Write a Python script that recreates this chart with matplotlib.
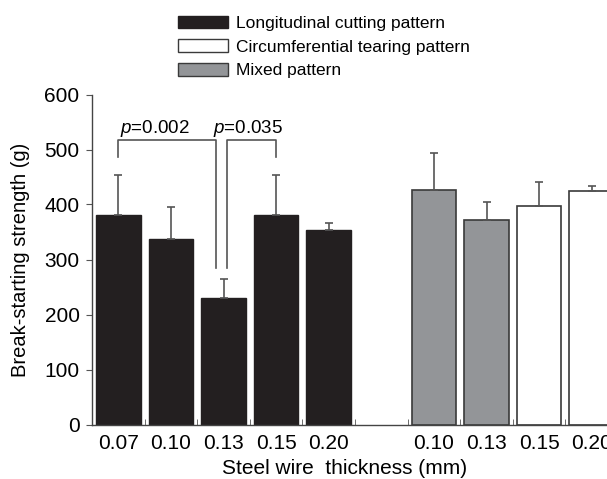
import numpy as np
import matplotlib
matplotlib.use("Agg")
import matplotlib.pyplot as plt
from matplotlib.patches import Patch

plt.rcParams['font.family'] = ['Liberation Sans', 'DejaVu Sans']
plt.rcParams['mathtext.fontset'] = 'custom'
plt.rcParams['mathtext.it'] = 'Liberation Sans:italic'
plt.rcParams['mathtext.rm'] = 'Liberation Sans'

# data
long_labels = ['0.07', '0.10', '0.13', '0.15', '0.20']
long_mean = [380, 338, 230, 380, 354]
long_err = [73, 57, 34, 73, 13]

mixed_labels = ['0.10', '0.13']
mixed_mean = [427, 372]
mixed_err = [66, 32]

circ_labels = ['0.15', '0.20']
circ_mean = [398, 425]
circ_err = [43, 8]

p_labels = ['$p$=0.002', '$p$=0.035']

BLACK = '#231f20'
GRAY = '#939598'
EDGE = '#3a3a3a'
LINE = '#555555'

fig = plt.figure(figsize=(6.07, 4.79), dpi=100)
ax = fig.add_axes([92 / 607, 1 - 424.5 / 479, 526 / 607, 330 / 479])

x_long = np.arange(len(long_labels))
x_mixed = np.arange(len(mixed_labels)) + len(long_labels) + 1
x_circ = np.arange(len(circ_labels)) + x_mixed[-1] + 1

err_kw = dict(ecolor=LINE, elinewidth=1.2, capsize=3, capthick=1.2)
w = 0.85

ax.bar(x_long, long_mean, w, color=BLACK, edgecolor=BLACK,
       yerr=[np.zeros(len(long_err)), long_err], error_kw=err_kw, zorder=2)
ax.bar(x_mixed, mixed_mean, w, color=GRAY, edgecolor=EDGE, linewidth=1.2,
       yerr=[np.zeros(len(mixed_err)), mixed_err], error_kw=err_kw, zorder=2)
ax.bar(x_circ, circ_mean, w, color='white', edgecolor=EDGE, linewidth=1.2,
       yerr=[np.zeros(len(circ_err)), circ_err], error_kw=err_kw, zorder=2)

# significance brackets
ax.plot([0, 0, 1.85, 1.85], [486, 518, 518, 284], color=LINE, lw=1.2)
ax.plot([2.07, 2.07, 3, 3], [284, 518, 518, 486], color=LINE, lw=1.2)
ax.text(0.7, 539, p_labels[0], ha='center', va='center', fontsize=13.5)
ax.text(2.47, 539, p_labels[1], ha='center', va='center', fontsize=13.5)

ax.set_xlim(-0.5, 9.5)
ax.set_ylim(0, 600)
ax.set_yticks(range(0, 601, 100))
xt = list(x_long) + list(x_mixed) + list(x_circ)
ax.set_xticks(xt)
ax.set_xticklabels(long_labels + mixed_labels + circ_labels)
ax.set_xticks(np.arange(0.5, 9, 1), minor=True)
ax.tick_params(axis='x', which='major', length=0, pad=7, labelsize=15)
ax.tick_params(axis='x', which='minor', direction='in', length=4, color=LINE)
ax.tick_params(axis='y', direction='out', length=4, pad=5, labelsize=15, color=LINE)

for s in ['top', 'right']:
    ax.spines[s].set_visible(False)
for s in ['left', 'bottom']:
    ax.spines[s].set_color('#444444')
    ax.spines[s].set_linewidth(1.0)

ax.set_ylabel('Break-starting strength (g)', fontsize=14.5)
ax.yaxis.set_label_coords(-0.118, 0.5)
ax.set_xlabel('Steel wire  thickness (mm)', fontsize=15)
ax.xaxis.set_label_coords(0.481, -0.105)

handles = [Patch(facecolor=BLACK, edgecolor=BLACK),
           Patch(facecolor='white', edgecolor=EDGE),
           Patch(facecolor=GRAY, edgecolor=EDGE)]
names = ['Longitudinal cutting pattern', 'Circumferential tearing pattern', 'Mixed pattern']
fig.legend(handles, names, loc='upper left', bbox_to_anchor=(178 / 607, 1 - 15.5 / 479),
           frameon=False, fontsize=12.5, handlelength=2.9, handleheight=0.75,
           handletextpad=0.45, labelspacing=0.48, borderaxespad=0, borderpad=0)

fig.savefig('out.png', dpi=100)
